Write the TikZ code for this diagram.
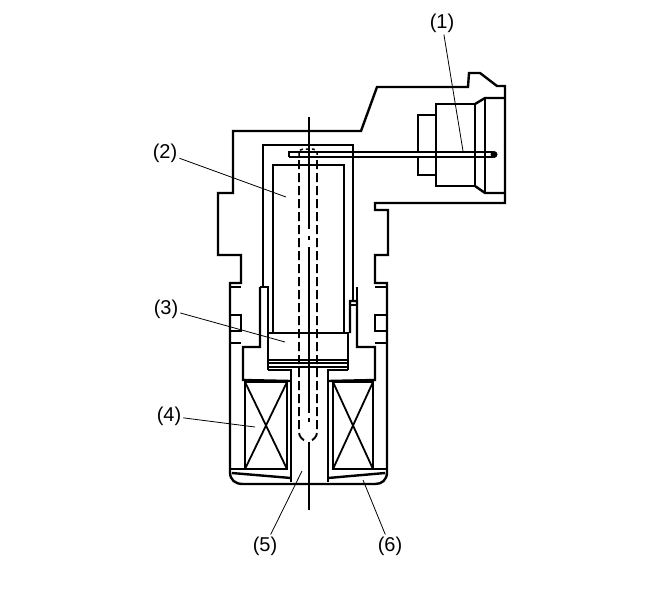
\documentclass[tikz,border=0pt]{standalone}
\usepackage{fontspec}
\setmainfont{Liberation Sans}
\tikzset{
 wall/.style={black, line width=2.4pt, line join=miter},
 fine/.style={black, line width=1.5pt},
 leader/.style={black, line width=0.8pt},
 pin/.style={black, line width=1.9pt, dash pattern=on 9pt off 4pt},
 lab/.style={font=\fontsize{20}{22}\selectfont, inner sep=2pt}
}
\begin{document}
\begin{tikzpicture}[x=1pt, y=-1pt]
 \useasboundingbox (0,0) rectangle (663,600);

 % Outer housing with connector shell
 \draw[wall]
  (233,193) -- (233,131) -- (361,131) -- (377,87) -- (468,87) -- (469,73) -- (480,73) -- (497,86) -- (505,86)
  -- (505,203) -- (375,203) -- (375,210) -- (388,210) -- (388,255) -- (375,255) -- (375,283)
  -- (387,283) -- (387,472)
  .. controls (387,480) and (382,484) .. (375,484) -- (243,484)
  .. controls (235,484) and (230,480) .. (230,472) -- (230,283) -- (241,283) -- (241,255)
  -- (218,255) -- (218,193) -- cycle;
 \draw[fine] (230,287) -- (241,287) (375,287) -- (387,287);

 % Side windows
 \foreach \wx/\wy in {230/241,375/387} {
  \draw[wall] (\wx,315) rectangle (\wy,331);
  \draw[wall] (\wx,343) -- (\wy,343);
 }

 % Inner sleeve, left and right
 \draw[wall] (263,287) -- (263,145) -- (353,145) -- (353,301);
 \draw[wall] (260,287) -- (268,287) -- (268,333);
 \draw[wall] (260,287) -- (260,347) -- (243,347) -- (243,380) -- (291,381);
 \draw[wall] (350,333) -- (350,301) -- (357,301) -- (357,347) -- (375,347) -- (375,380) -- (328,381);
 \draw[fine] (357,287) -- (357,301);
 \draw[fine] (350,305) -- (357,305);

 % Plunger
 \draw[wall] (273,333) -- (273,165) -- (344,165) -- (344,333);
 \draw[wall] (268,333) rectangle (348,367);
 \draw[wall] (268,360) -- (348,360);
 \draw[fine] (268,363) -- (348,363);
 \draw[wall] (268,370) -- (291,370) -- (291,482);
 \draw[wall] (348,370) -- (328,370) -- (328,482);
 \draw[wall] (268,367) -- (268,370) (348,367) -- (348,370);

 % Coils
 \draw[wall] (245,382) rectangle (287,469);
 \draw[wall] (333,382) rectangle (373,469);
 \draw[wall, line width=1.8pt] (245,382) -- (287,469) (287,382) -- (245,469);
 \draw[wall, line width=1.8pt] (333,382) -- (373,469) (373,382) -- (333,469);

 % Bottom plate
 \draw[fine] (230,469) -- (245,469) (373,469) -- (387,469);
 \draw[wall] (232,473) -- (291,478);
 \draw[wall] (328,478) -- (385,473);

 % Centre line and hidden pin
 \draw[fine] (309,117) -- (309,229) (309,236) -- (309,240) (309,247) -- (309,413)
  (309,418) -- (309,422) (309,442) -- (309,510);
 \draw[pin] (299,160) -- (299,432) arc (180:100:9);
 \draw[pin] (317,160) -- (317,432) arc (0:80:9);
 \draw[fine, dashed, rounded corners=4pt] (299,156) -- (299,149) -- (317,149) -- (317,156);

 % Lead rod and connector parts
 \draw[wall] (493,152) -- (289,152) -- (289,157);
 \draw[fine] (289,157) -- (493,157);
 \fill[black] (494,154.5) circle (3.5pt);
 \draw[wall] (436,152) -- (418,152) -- (418,115) -- (436,115);
 \draw[wall] (436,157) -- (418,157) -- (418,175) -- (436,175);
 \draw[wall] (436,104) rectangle (475,186);
 \draw[wall] (475,104) -- (485,98) -- (505,98);
 \draw[wall] (475,186) -- (485,193) -- (505,193);
 \draw[wall] (485,98) -- (485,193);

 % Leader tips
 \coordinate (tip1) at (463,151);
 \coordinate (tip2) at (286,197);
 \coordinate (tip3) at (285,342);
 \coordinate (tip4) at (255,427);
 \coordinate (tip5) at (302,471);
 \coordinate (tip6) at (363,480);

 % Labels
 \node[lab] (lab1) at (442,23) {(1)};
 \node[lab] (lab2) at (165,153) {(2)};
 \node[lab] (lab3) at (166,309) {(3)};
 \node[lab] (lab4) at (169,416) {(4)};
 \node[lab] (lab5) at (265,546) {(5)};
 \node[lab] (lab6) at (390,546) {(6)};

 \foreach \n in {1,...,6} {
  \draw[leader] (lab\n) -- (tip\n);
 }
\end{tikzpicture}
\end{document}
